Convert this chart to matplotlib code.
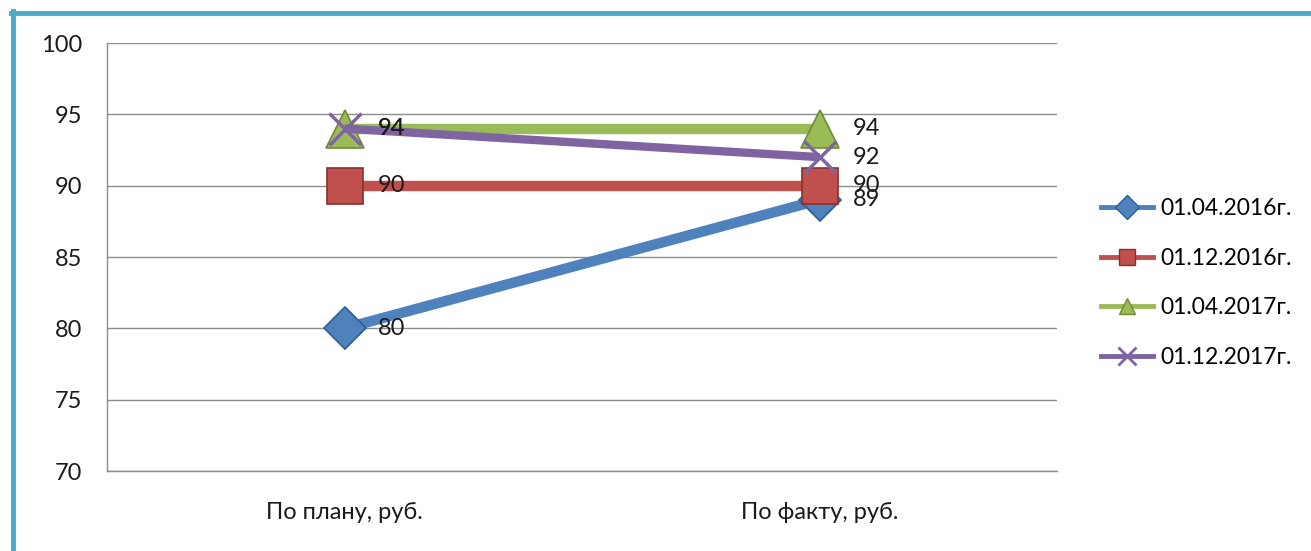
import matplotlib.pyplot as plt
from matplotlib.lines import Line2D

plt.rcParams['font.family'] = ['Lato', 'DejaVu Sans']

categories = ['По плану, руб.', 'По факту, руб.']
series_names = ['01.04.2016г.', '01.12.2016г.', '01.04.2017г.', '01.12.2017г.']
values_2016_04 = [80, 89]
values_2016_12 = [90, 90]
values_2017_04 = [94, 94]
values_2017_12 = [94, 92]
all_values = [values_2016_04, values_2016_12, values_2017_04, values_2017_12]

colors = ['#4F81BD', '#C0504D', '#9BBB59', '#8064A2']
edge_colors = ['#2C5D98', '#8C2F2C', '#6E8B34', '#8064A2']
markers = ['D', 's', '^', 'x']
marker_sizes = [21, 26, 27, 23]
line_widths = [7.5, 7.5, 7.5, 6]

fig = plt.figure(figsize=(13.11, 5.51), dpi=100)
ax = fig.add_axes([107 / 1311, 1 - 471 / 551, 950 / 1311, 428 / 551])

x = list(range(len(categories)))
for i, vals in enumerate(all_values):
    if markers[i] == 'x':
        ax.plot(x, vals, color=colors[i], lw=line_widths[i], marker='x',
                markersize=marker_sizes[i], markeredgewidth=2.5, zorder=3 + i,
                solid_capstyle='butt')
    else:
        ax.plot(x, vals, color=colors[i], lw=line_widths[i], marker=markers[i],
                markersize=marker_sizes[i], markerfacecolor=colors[i],
                markeredgecolor=edge_colors[i], markeredgewidth=1.2,
                zorder=3 + i, solid_capstyle='butt')
    for xi, v in zip(x, vals):
        ax.annotate(str(v), (xi, v), xytext=(24, 0), textcoords='offset points',
                    va='center', ha='left', fontsize=17, color='#1a1a1a', zorder=10)

ax.set_xlim(-0.5, 1.5)
ax.set_ylim(70, 100)
ax.set_yticks(range(70, 101, 5))
ax.set_xticks(x)
ax.set_xticklabels(categories)
ax.tick_params(length=0, labelsize=17, colors='#1a1a1a')
ax.tick_params(axis='y', pad=18)
ax.tick_params(axis='x', pad=22)
ax.grid(axis='y', color='#8c8c8c', lw=1)
ax.set_axisbelow(True)
for s in ['top', 'right']:
    ax.spines[s].set_visible(False)
for s in ['left', 'bottom']:
    ax.spines[s].set_color('#8c8c8c')
    ax.spines[s].set_linewidth(1)

handles = []
for i in range(4):
    if markers[i] == 'x':
        h = Line2D([], [], color=colors[i], lw=3.5, marker='x', markersize=13,
                   markeredgewidth=2)
    else:
        h = Line2D([], [], color=colors[i], lw=3.5, marker=markers[i],
                   markersize=12, markerfacecolor=colors[i],
                   markeredgecolor=edge_colors[i])
    handles.append(h)
fig.legend(handles, series_names, loc='center left',
           bbox_to_anchor=(1080 / 1311, 1 - 283 / 551), frameon=False,
           fontsize=16.5, handlelength=2.3, labelspacing=1.25, handletextpad=0.3)

# рамка диаграммы
border = '#4BACC6'
fig.add_artist(Line2D([11 / 1311, 1], [1 - 13 / 551, 1 - 13 / 551], color=border,
                      lw=3.5, transform=fig.transFigure))
fig.add_artist(Line2D([13 / 1311, 13 / 1311], [0, 1 - 11 / 551], color=border,
                      lw=3.5, transform=fig.transFigure))

fig.savefig('out.png', dpi=100)
